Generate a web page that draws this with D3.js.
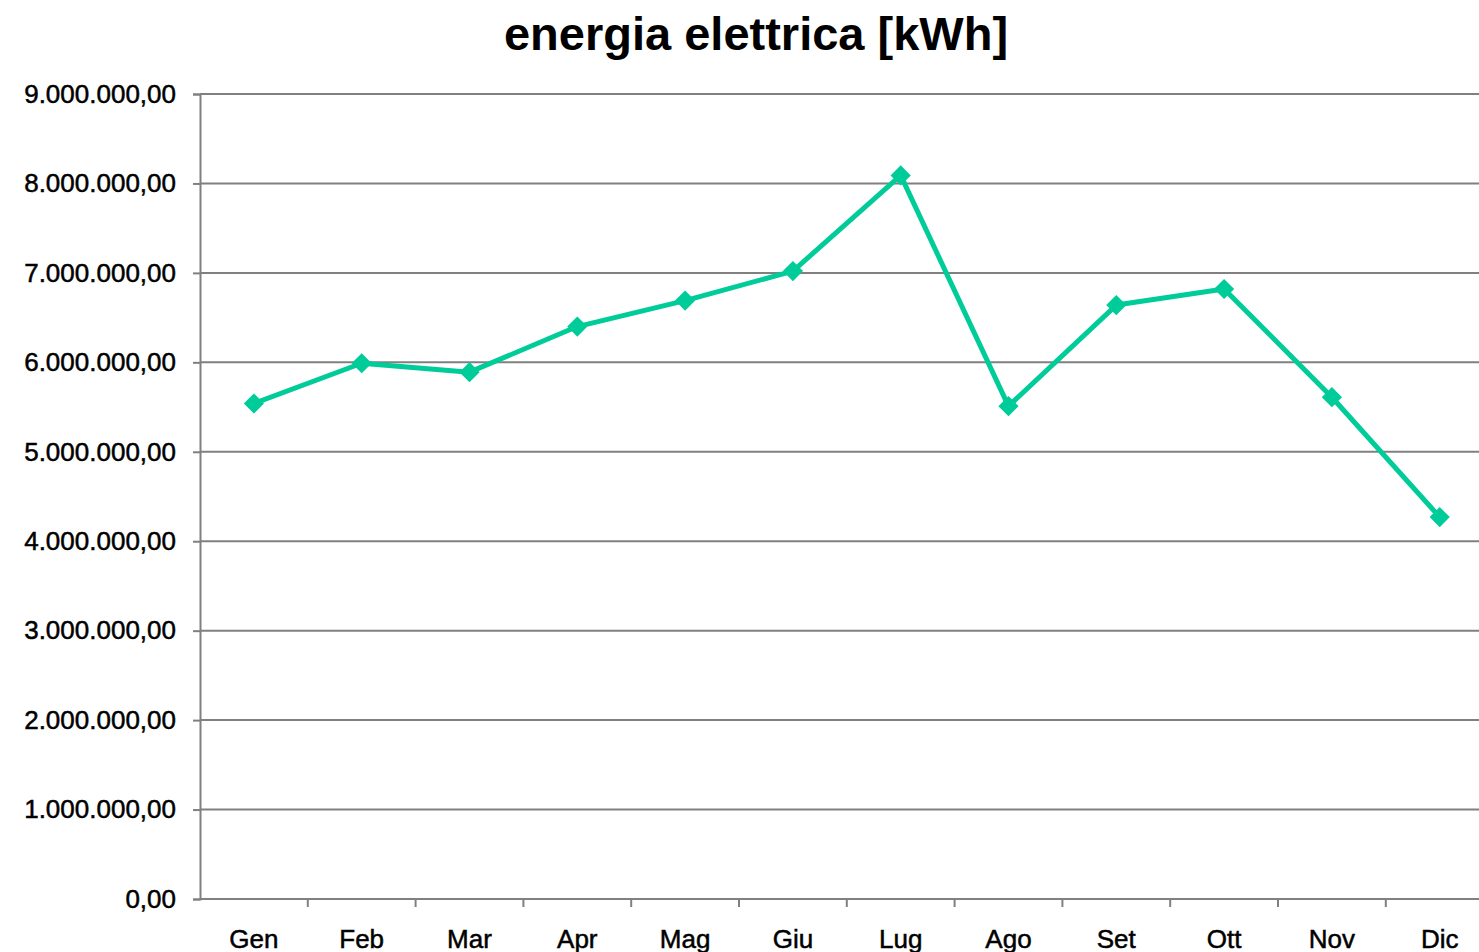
<!DOCTYPE html>
<html>
<head>
<meta charset="utf-8">
<script src="https://cdn.jsdelivr.net/npm/d3@7"></script>
<style>
  body { margin: 0; background: #fff; }
  text { font-family: "Liberation Sans", Arial, sans-serif; }
</style>
</head>
<body>
<script>
const months = ["Gen", "Feb", "Mar", "Apr", "Mag", "Giu", "Lug", "Ago", "Set", "Ott", "Nov", "Dic"];
const energia = [5540000, 5990000, 5890000, 6400000, 6690000, 7020000, 8090000, 5510000, 6640000, 6820000, 5610000, 4270000];
const yTicks = [0, 1000000, 2000000, 3000000, 4000000, 5000000, 6000000, 7000000, 8000000, 9000000];

const width = 1479, height = 952;
const margin = {top: 94, left: 200, bottom: 53};

const svg = d3.select("body")
  .append("svg")
  .attr("width", width)
  .attr("height", height);

const x = d3.scaleBand()
  .domain(months)
  .range([margin.left, margin.left + 12 * 107.8]);

const y = d3.scaleLinear()
  .domain([0, 9000000])
  .range([height - margin.bottom, margin.top]);

const it = d3.formatLocale({decimal: ",", thousands: ".", grouping: [3], currency: ["", "€"]});
const fmt = it.format(",.2f");

// gridlines
svg.append("g")
  .selectAll("line")
  .data(yTicks.slice(1))
  .enter()
  .append("line")
  .attr("x1", margin.left)
  .attr("x2", width)
  .attr("y1", d => y(d))
  .attr("y2", d => y(d))
  .attr("stroke", "#808080")
  .attr("stroke-width", 2);

// y axis
const yAxis = svg.append("g")
  .attr("transform", "translate(" + margin.left + ",0)")
  .call(d3.axisLeft(y).tickValues(yTicks).tickFormat(fmt).tickSize(7).tickPadding(17));
yAxis.select(".domain").attr("stroke", "#808080").attr("stroke-width", 2);
yAxis.selectAll(".tick line").attr("stroke", "#808080").attr("stroke-width", 2);
yAxis.selectAll("text")
  .attr("font-size", 26)
  .attr("font-family", "Liberation Sans, Arial, sans-serif")
  .attr("fill", "#000")
  .attr("stroke", "#000")
  .attr("stroke-width", 0.5);

// x axis
const xAxis = svg.append("g")
  .attr("transform", "translate(0," + y(0) + ")");
xAxis.append("line")
  .attr("x1", margin.left)
  .attr("x2", width)
  .attr("stroke", "#808080")
  .attr("stroke-width", 2);
xAxis.selectAll(".xt")
  .data(months.slice(1))
  .enter()
  .append("line")
  .attr("class", "xt")
  .attr("x1", d => x(d))
  .attr("x2", d => x(d))
  .attr("y1", 0)
  .attr("y2", 8)
  .attr("stroke", "#808080")
  .attr("stroke-width", 2);
xAxis.selectAll("text")
  .data(months)
  .enter()
  .append("text")
  .attr("x", d => x(d) + x.bandwidth() / 2)
  .attr("y", 49)
  .attr("text-anchor", "middle")
  .attr("font-size", 26)
  .attr("stroke", "#000")
  .attr("stroke-width", 0.5)
  .text(d => d);

// line
const line = d3.line()
  .x((d, i) => x(months[i]) + x.bandwidth() / 2)
  .y(d => y(d));

svg.append("path")
  .datum(energia)
  .attr("d", line)
  .attr("fill", "none")
  .attr("stroke", "#00CC99")
  .attr("stroke-width", 5)
  .attr("stroke-linejoin", "round");

svg.selectAll(".marker")
  .data(energia)
  .enter()
  .append("path")
  .attr("class", "marker")
  .attr("d", d3.symbol().type(d3.symbolDiamond2).size(260))
  .attr("transform", (d, i) => "translate(" + (x(months[i]) + x.bandwidth() / 2) + "," + y(d) + ")")
  .attr("fill", "#00CC99");

// title
svg.append("text")
  .attr("x", 756)
  .attr("y", 50)
  .attr("text-anchor", "middle")
  .attr("font-size", 47)
  .attr("font-weight", "bold")
  .text("energia elettrica [kWh]");
</script>
</body>
</html>
